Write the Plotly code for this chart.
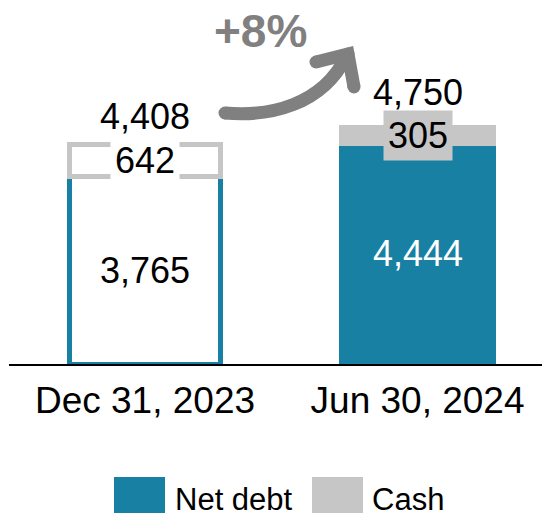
import plotly.graph_objects as go

# ---- data ----
categories = ["Dec 31, 2023", "Jun 30, 2024"]
net_debt = [3765, 4444]
cash = [642, 305]
totals = [4408, 4750]
change_label = "+8%"

# ---- style ----
TEAL = "#1780A3"
GREY = "#C6C6C6"
ARROW = "#808080"
FONT = "Liberation Sans, Arial, sans-serif"

OFF = 8  # page body margin
W, H = 550 - OFF, 560 - OFF
L, T = 9 - OFF, 20 - OFF
AXIS_Y = 364 - OFF
R = 0
B = H - AXIS_Y
PW, PH = W - L - R, H - T - B
YMAX = 6920
XR = [-0.499, 1.486]


def px(x):
    return (x - OFF - L) / PW


def py(y):
    return (AXIS_Y - (y - OFF)) / PH


fig = go.Figure()
fig.add_trace(go.Bar(
    x=categories, y=net_debt, name="Net debt",
    marker=dict(color=["white", TEAL], line=dict(color=TEAL, width=5)),
    width=0.556, showlegend=False, hoverinfo="skip"))
fig.add_trace(go.Bar(
    x=categories, y=cash, name="Cash",
    marker=dict(color=["white", GREY], line=dict(color=GREY, width=5)),
    width=0.556, showlegend=False, hoverinfo="skip"))

ann = []
seg_font_colors = ["black", "white"]
cash_bg = ["white", GREY]
total_shift = [28, 35]
for i, c in enumerate(categories):
    ann.append(dict(x=c, y=net_debt[i] / 2, text=f"{net_debt[i]:,}", showarrow=False,
                    yanchor="middle",
                    font=dict(family=FONT, size=36, color=seg_font_colors[i])))
    ann.append(dict(x=c, y=net_debt[i] + cash[i] / 2, text=f"{cash[i]:,}", showarrow=False,
                    bgcolor=cash_bg[i], borderpad=4, yanchor="middle",
                    font=dict(family=FONT, size=36, color="black")))
    ann.append(dict(x=c, y=totals[i], text=f"{totals[i]:,}", showarrow=False,
                    yshift=total_shift[i], yanchor="middle",
                    font=dict(family=FONT, size=36, color="black")))

ann.append(dict(xref="paper", yref="paper", x=px(260), y=py(31), text=f"<b>{change_label}</b>",
                showarrow=False, xanchor="center", yanchor="middle",
                font=dict(family=FONT, size=46, color=ARROW)))

# legend (manual)
leg = [("Net debt", TEAL, 114, 173), ("Cash", GREY, 312, 370)]
shapes = []
for name, col, x0, tx in leg:
    shapes.append(dict(type="rect", xref="paper", yref="paper", x0=px(x0), x1=px(x0 + 51),
                       y0=py(477), y1=py(530), fillcolor=col, line=dict(width=0), layer="above"))
    ann.append(dict(xref="paper", yref="paper", x=px(tx), y=py(499), xanchor="left",
                    yanchor="middle", text=name, showarrow=False,
                    font=dict(family=FONT, size=31, color="black")))

# arrow
def pt(x, y):
    return f"{px(x)},{py(y)}"

curve = f"M{pt(225,113)} C{pt(270,117)} {pt(322,105)} {pt(346,57)}"
shapes.append(dict(type="path", xref="paper", yref="paper", path=curve,
                   line=dict(color=ARROW, width=13)))
head = f"M{pt(316,62)} L{pt(348,54)} L{pt(354,87)}"
shapes.append(dict(type="path", xref="paper", yref="paper", path=head,
                   line=dict(color=ARROW, width=13)))
for (cx, cy) in [(225, 113), (316, 62), (354, 87), (348, 54)]:
    shapes.append(dict(type="circle", xref="paper", yref="paper", xsizemode="pixel",
                       ysizemode="pixel", xanchor=px(cx), yanchor=py(cy),
                       x0=-6.5, x1=6.5, y0=-6.5, y1=6.5, fillcolor=ARROW, line=dict(width=0)))

fig.update_layout(
    width=W, height=H, margin=dict(l=L, r=R, t=T, b=B),
    barmode="stack", plot_bgcolor="white", paper_bgcolor="white",
    annotations=ann, shapes=shapes, showlegend=False,
    font=dict(family=FONT, color="black"),
)
fig.update_xaxes(range=XR, showline=True, linecolor="black", linewidth=1.5,
                 ticks="", ticklabelstandoff=3, tickfont=dict(family=FONT, size=37, color="black"),
                 showgrid=False, zeroline=False, fixedrange=True)
fig.update_yaxes(range=[0, YMAX], visible=False, showgrid=False, zeroline=False, fixedrange=True)

fig.write_html("out.html")
